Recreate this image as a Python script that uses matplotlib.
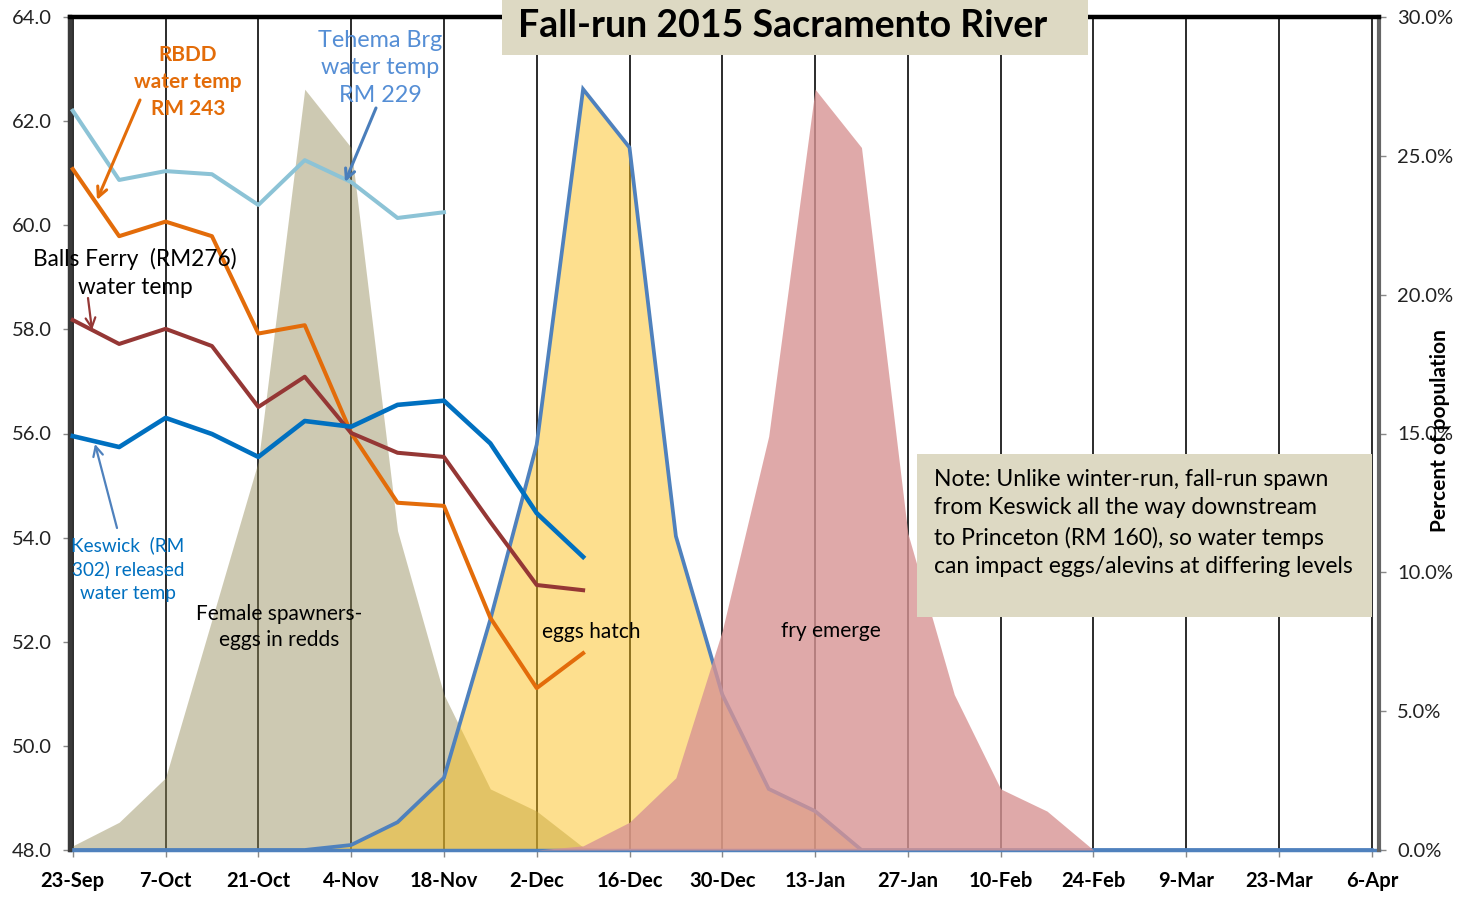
import matplotlib
matplotlib.use("Agg")
import matplotlib.pyplot as plt
from matplotlib.patches import Rectangle
import pandas as pd

plt.rcParams['font.family'] = ['Lato', 'DejaVu Sans']

# ---------------- data ----------------
dates = ['2015-09-23', '2015-09-30', '2015-10-07', '2015-10-14', '2015-10-21', '2015-10-28',
         '2015-11-04', '2015-11-11', '2015-11-18', '2015-11-25', '2015-12-02', '2015-12-09',
         '2015-12-16', '2015-12-23', '2015-12-30', '2016-01-06', '2016-01-13', '2016-01-20',
         '2016-01-27', '2016-02-03', '2016-02-10', '2016-02-17', '2016-02-24', '2016-03-02',
         '2016-03-09', '2016-03-16', '2016-03-23', '2016-03-30', '2016-04-06']

# percent of population (right axis)
spawners = [0.15, 1.0, 2.6, 8.3, 14.0, 27.4, 25.3, 11.5, 5.6, 2.2, 1.4, 0.1, 0, 0, 0,
            0, 0, 0, 0, 0, 0, 0, 0, 0, 0, 0, 0, 0, 0]
eggs_hatch = [0, 0, 0, 0, 0, 0, 0.18, 1.0, 2.6, 8.3, 14.6, 27.4, 25.3, 11.3, 5.6,
              2.2, 1.4, 0.0, 0, 0, 0, 0, 0, 0, 0, 0, 0, 0, 0]
fry_emerge = [0, 0, 0, 0, 0, 0, 0, 0, 0, 0, 0, 0.15, 1.0, 2.6, 7.9,
              14.9, 27.4, 25.3, 11.4, 5.6, 2.2, 1.4, 0, 0, 0, 0, 0, 0, 0]

# water temperatures (left axis, deg F)
temp_dates = dates[:12]
tehema = [62.2, 60.87, 61.04, 60.98, 60.39, 61.25, 60.83, 60.14, 60.25]
rbdd = [61.08, 59.79, 60.07, 59.79, 57.92, 58.08, 56.01, 54.67, 54.61, 52.46, 51.11, 51.78]
balls_ferry = [58.18, 57.72, 58.01, 57.68, 56.51, 57.09, 56.01, 55.63, 55.55, 54.3, 53.09, 52.99]
keswick = [55.95, 55.74, 56.30, 55.99, 55.55, 56.24, 56.13, 56.55, 56.63, 55.81, 54.47, 53.63]

tick_dates = ['2015-09-23', '2015-10-07', '2015-10-21', '2015-11-04', '2015-11-18', '2015-12-02',
              '2015-12-16', '2015-12-30', '2016-01-13', '2016-01-27', '2016-02-10', '2016-02-24',
              '2016-03-09', '2016-03-23', '2016-04-06']
tick_labels = ['23-Sep', '7-Oct', '21-Oct', '4-Nov', '18-Nov', '2-Dec', '16-Dec', '30-Dec',
               '13-Jan', '27-Jan', '10-Feb', '24-Feb', '9-Mar', '23-Mar', '6-Apr']
temp_ticks = [48, 50, 52, 54, 56, 58, 60, 62, 64]
pct_ticks = [0, 5, 10, 15, 20, 25, 30]

# ---------------- figure ----------------
W, H = 1461, 899
fig = plt.figure(figsize=(W / 100, H / 100), dpi=100)
L, R, B, T = 70, 1379, 850, 17
axP = fig.add_axes([L / W, (H - B) / H, (R - L) / W, (B - T) / H])  # percent (fills)
axT = axP.twinx()  # temperature lines
axT.set_zorder(axP.get_zorder() + 1)
axT.patch.set_visible(False)

x = pd.to_datetime(dates)
xt = pd.to_datetime(temp_dates)
ticks = pd.to_datetime(tick_dates)

# grid under fills
for td in ticks:
    axP.axvline(td, color='#1a1a1a', lw=1.3, zorder=0.5)

axP.fill_between(x, 0, spawners, color='#928954', alpha=0.45, lw=0, zorder=1)
axP.fill_between(x, 0, eggs_hatch, color='#FBBE14', alpha=0.48, lw=0, zorder=2)
axP.plot(x, eggs_hatch, color='#4F81BD', lw=2.7, zorder=3, solid_joinstyle='miter')
axP.fill_between(x, 0, fry_emerge, color='#D89494', alpha=0.8, lw=0, zorder=4)

axP.set_ylim(0, 30)
axP.set_yticks(pct_ticks)
axP.set_yticklabels([f"{v:.1f}%" for v in pct_ticks])
axP.yaxis.tick_right()
axP.set_xlim(ticks[0] - pd.Timedelta(hours=10), ticks[-1] + pd.Timedelta(hours=26))
axP.set_xticks(ticks)
axP.set_xticklabels(tick_labels, fontweight='bold')

lw_t = 2.9
axT.plot(xt[:len(tehema)], tehema, color='#8CC3D6', lw=lw_t, zorder=5)
axT.plot(xt, rbdd, color='#E36C0A', lw=lw_t, zorder=6)
axT.plot(xt, balls_ferry, color='#953735', lw=lw_t, zorder=7)
axT.plot(xt, keswick, color='#0070C0', lw=3.3, zorder=8)
axT.set_ylim(48, 64)
axT.set_yticks(temp_ticks)
axT.set_yticklabels([f"{v:.1f}" for v in temp_ticks])
axT.yaxis.tick_left()

for a in (axP, axT):
    a.tick_params(axis='both', labelsize=14.5, colors='#222222', length=5, width=1, direction='out')
axP.tick_params(axis='x', labelsize=14.5, pad=10, color='#888888')
axP.tick_params(axis='y', color='#888888', pad=8)
axT.tick_params(axis='y', color='#888888', pad=8)
for lab in axP.get_xticklabels():
    lab.set_fontweight('bold')
    lab.set_color('black')

for a in (axP, axT):
    for s in a.spines.values():
        s.set_visible(False)
axT.spines['left'].set_visible(True)
axT.spines['left'].set_linewidth(3.2)
axT.spines['left'].set_color('#3a3a3a')
axT.spines['top'].set_visible(True)
axT.spines['top'].set_linewidth(3.2)
axT.spines['top'].set_color('black')
axT.spines['right'].set_visible(True)
axT.spines['right'].set_linewidth(3.0)
axT.spines['right'].set_color('#666666')
axP.spines['bottom'].set_visible(True)
axP.spines['bottom'].set_color('#4F81BD')
axP.spines['bottom'].set_linewidth(2.5)


def P(px, py):
    return (px, H - py)


def box(x0, y0, x1, y1):
    fig.patches.append(Rectangle((x0 / W, 1 - y1 / H), (x1 - x0) / W, (y1 - y0) / H,
                                 transform=fig.transFigure, facecolor='#DDD9C3',
                                 edgecolor='none', zorder=10))


# title box
box(502, 0, 1088, 55)
fig.text(518 / W, 1 - 26 / H, 'Fall-run 2015 Sacramento River', fontsize=27,
         fontweight='bold', ha='left', va='center', zorder=11)

# note box
box(917, 454, 1372, 617)
fig.text(934 / W, 1 - 523 / H,
         'Note: Unlike winter-run, fall-run spawn\nfrom Keswick all the way downstream\n'
         'to Princeton (RM 160), so water temps\ncan impact eggs/alevins at differing levels',
         fontsize=16.5, ha='left', va='center', linespacing=1.44, zorder=11)

fig.text(1440 / W, 1 - 431 / H, 'Percent of population', rotation=90, fontsize=15,
         fontweight='bold', ha='center', va='center')


def label(txt, cx, cy, color, size, weight='normal', ls=1.2):
    axT.annotate(txt, xy=P(cx, cy), xycoords='figure pixels', ha='center', va='center',
                 fontsize=size, color=color, fontweight=weight, linespacing=ls, zorder=12)


def arrow(x0, y0, x1, y1, color, lw=2):
    axT.annotate('', xy=P(x1, y1), xytext=P(x0, y0), xycoords='figure pixels',
                 textcoords='figure pixels',
                 arrowprops=dict(arrowstyle='->,head_length=0.7,head_width=0.35', color=color,
                                 lw=lw, shrinkA=0, shrinkB=0), zorder=12)


label('RBDD\nwater temp\nRM 243', 188, 82, '#E36C09', 15, 'bold', 1.42)
arrow(140, 100, 97, 200, '#E36C09', 2.2)
label('Tehema Brg\nwater temp\nRM 229', 380, 68, '#558ED5', 16.8, 'normal', 1.41)
arrow(376, 108, 345, 182, '#4A7EBB', 2.2)
label('Balls Ferry  (RM276)\nwater temp', 135, 273, 'black', 16.3, 'normal', 1.46)
arrow(88, 298, 92, 330, '#953735', 1.6)
label('Keswick  (RM\n302) released\nwater temp', 128, 569, '#0070C0', 13.6, 'normal', 1.43)
arrow(117, 528, 95, 444, '#4F81BD', 1.6)
label('Female spawners-\neggs in redds', 279, 627, 'black', 15, 'normal', 1.42)
label('eggs hatch', 591, 632, 'black', 15)
label('fry emerge', 831, 631, 'black', 15)

fig.savefig('out.png', dpi=100)
